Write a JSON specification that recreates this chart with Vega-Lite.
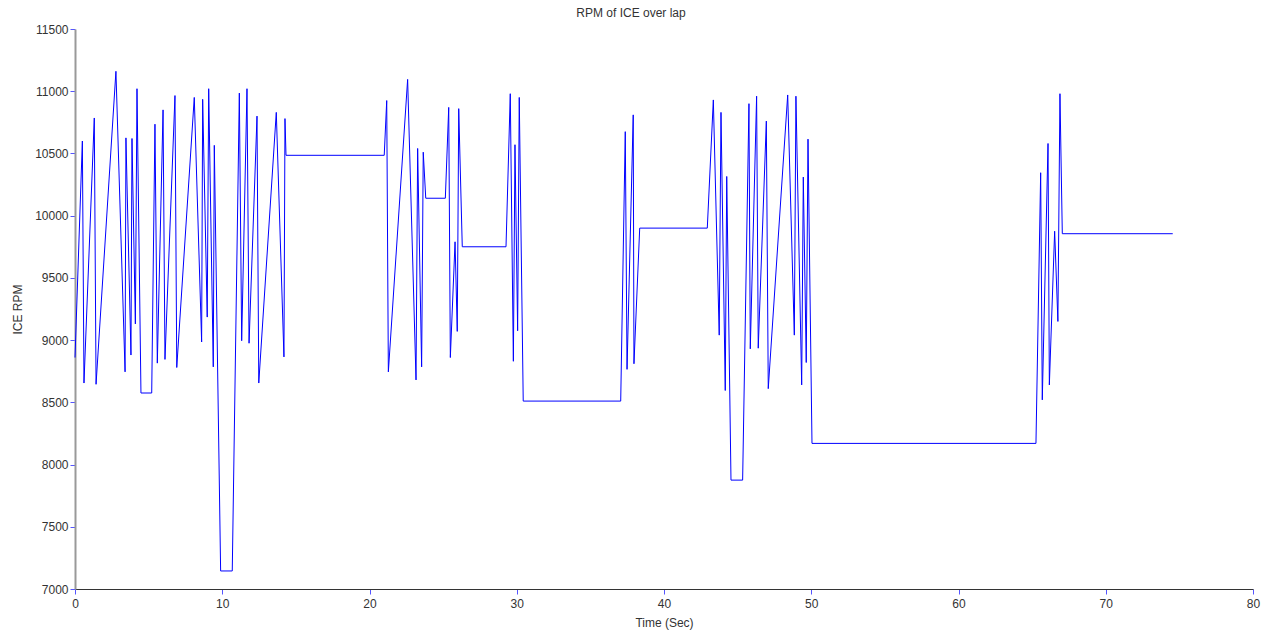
{
  "$schema": "https://vega.github.io/schema/vega-lite/v6.json",
  "autosize": {"type": "none"},
  "padding": {"left": 75, "top": 29, "right": 9, "bottom": 47},
  "width": 1178,
  "height": 560,
  "background": "white",
  "title": {"text": "RPM of ICE over lap", "fontSize": 12, "font": "Liberation Sans", "fontWeight": "normal", "color": "#333333", "offset": 3, "dx": -33},
  "data": {"values": [
    {"t": 0, "rpm": 8860}, {"t": 0.50, "rpm": 10600}, {"t": 0.61, "rpm": 8655}, {"t": 1.31, "rpm": 10785},
    {"t": 1.43, "rpm": 8645}, {"t": 2.78, "rpm": 11160}, {"t": 3.40, "rpm": 8745}, {"t": 3.46, "rpm": 10625},
    {"t": 3.80, "rpm": 8880}, {"t": 3.87, "rpm": 10620}, {"t": 4.10, "rpm": 9130}, {"t": 4.21, "rpm": 11020},
    {"t": 4.48, "rpm": 8575}, {"t": 5.21, "rpm": 8575}, {"t": 5.43, "rpm": 10735}, {"t": 5.59, "rpm": 8815},
    {"t": 5.98, "rpm": 10850}, {"t": 6.11, "rpm": 8845}, {"t": 6.79, "rpm": 10965}, {"t": 6.91, "rpm": 8780},
    {"t": 8.10, "rpm": 10950}, {"t": 8.60, "rpm": 8985}, {"t": 8.67, "rpm": 10935}, {"t": 8.98, "rpm": 9185},
    {"t": 9.08, "rpm": 11020}, {"t": 9.39, "rpm": 8785}, {"t": 9.46, "rpm": 10565}, {"t": 9.89, "rpm": 7145},
    {"t": 10.68, "rpm": 7145}, {"t": 11.16, "rpm": 10985}, {"t": 11.32, "rpm": 8995}, {"t": 11.68, "rpm": 11020},
    {"t": 11.82, "rpm": 8975}, {"t": 12.36, "rpm": 10800}, {"t": 12.48, "rpm": 8655}, {"t": 13.67, "rpm": 10830},
    {"t": 14.19, "rpm": 8865}, {"t": 14.26, "rpm": 10780}, {"t": 14.33, "rpm": 10485}, {"t": 21.00, "rpm": 10485},
    {"t": 21.17, "rpm": 10925}, {"t": 21.28, "rpm": 8745}, {"t": 22.59, "rpm": 11095}, {"t": 23.16, "rpm": 8680},
    {"t": 23.27, "rpm": 10540}, {"t": 23.54, "rpm": 8785}, {"t": 23.65, "rpm": 10510}, {"t": 23.82, "rpm": 10140},
    {"t": 25.15, "rpm": 10140}, {"t": 25.38, "rpm": 10870}, {"t": 25.49, "rpm": 8860}, {"t": 25.81, "rpm": 9790},
    {"t": 25.96, "rpm": 9070}, {"t": 26.06, "rpm": 10860}, {"t": 26.30, "rpm": 9750}, {"t": 29.27, "rpm": 9750},
    {"t": 29.56, "rpm": 10980}, {"t": 29.77, "rpm": 8830}, {"t": 29.88, "rpm": 10570}, {"t": 30.06, "rpm": 9075},
    {"t": 30.17, "rpm": 10950}, {"t": 30.44, "rpm": 8510}, {"t": 37.06, "rpm": 8510}, {"t": 37.37, "rpm": 10675},
    {"t": 37.49, "rpm": 8765}, {"t": 37.91, "rpm": 10810}, {"t": 37.96, "rpm": 8810}, {"t": 38.35, "rpm": 9900},
    {"t": 42.94, "rpm": 9900}, {"t": 43.35, "rpm": 10930}, {"t": 43.75, "rpm": 9040}, {"t": 43.87, "rpm": 10830},
    {"t": 44.16, "rpm": 8595}, {"t": 44.26, "rpm": 10315}, {"t": 44.55, "rpm": 7875}, {"t": 45.34, "rpm": 7875},
    {"t": 45.77, "rpm": 10900}, {"t": 45.86, "rpm": 8930}, {"t": 46.29, "rpm": 10960}, {"t": 46.40, "rpm": 8935},
    {"t": 46.95, "rpm": 10760}, {"t": 47.08, "rpm": 8610}, {"t": 48.40, "rpm": 10970}, {"t": 48.85, "rpm": 9040},
    {"t": 48.96, "rpm": 10960}, {"t": 49.35, "rpm": 8640}, {"t": 49.46, "rpm": 10310}, {"t": 49.66, "rpm": 8820},
    {"t": 49.78, "rpm": 10615}, {"t": 50.05, "rpm": 8170}, {"t": 65.26, "rpm": 8170}, {"t": 65.58, "rpm": 10345},
    {"t": 65.69, "rpm": 8520}, {"t": 66.08, "rpm": 10580}, {"t": 66.17, "rpm": 8640}, {"t": 66.53, "rpm": 9875},
    {"t": 66.75, "rpm": 9150}, {"t": 66.89, "rpm": 10980}, {"t": 67.05, "rpm": 9855}, {"t": 74.55, "rpm": 9855}
  ]},
  "mark": {"type": "line", "color": "#0000ff", "strokeWidth": 1, "interpolate": "linear"},
  "encoding": {
    "x": {
      "field": "t", "type": "quantitative", "sort": null,
      "scale": {"domain": [0, 80], "nice": false, "zero": false},
      "axis": {"title": "Time (Sec)", "values": [0, 10, 20, 30, 40, 50, 60, 70, 80], "grid": false, "format": "d",
        "labelFlush": false, "labelOverlap": false,
        "domainColor": "#333333", "domainWidth": 1, "tickColor": "#5555ff", "tickSize": 5,
        "labelFont": "Liberation Sans", "labelFontSize": 12, "labelColor": "#333333", "labelPadding": 4,
        "titleFont": "Liberation Sans", "titleFontSize": 12, "titleFontWeight": "normal", "titleColor": "#333333", "titlePadding": 8}
    },
    "y": {
      "field": "rpm", "type": "quantitative",
      "scale": {"domain": [7000, 11500], "nice": false, "zero": false},
      "axis": {"title": "ICE RPM", "values": [7000, 7500, 8000, 8500, 9000, 9500, 10000, 10500, 11000, 11500], "grid": false, "format": "d",
        "labelFlush": false, "labelOverlap": false,
        "domainColor": "#999999", "domainWidth": 2, "tickColor": "#5555ff", "tickSize": 5,
        "labelFont": "Liberation Sans", "labelFontSize": 12, "labelColor": "#333333", "labelPadding": 2,
        "titleFont": "Liberation Sans", "titleFontSize": 12, "titleFontWeight": "normal", "titleColor": "#333333", "titlePadding": 10}
    }
  },
  "config": {"view": {"stroke": null}}
}
